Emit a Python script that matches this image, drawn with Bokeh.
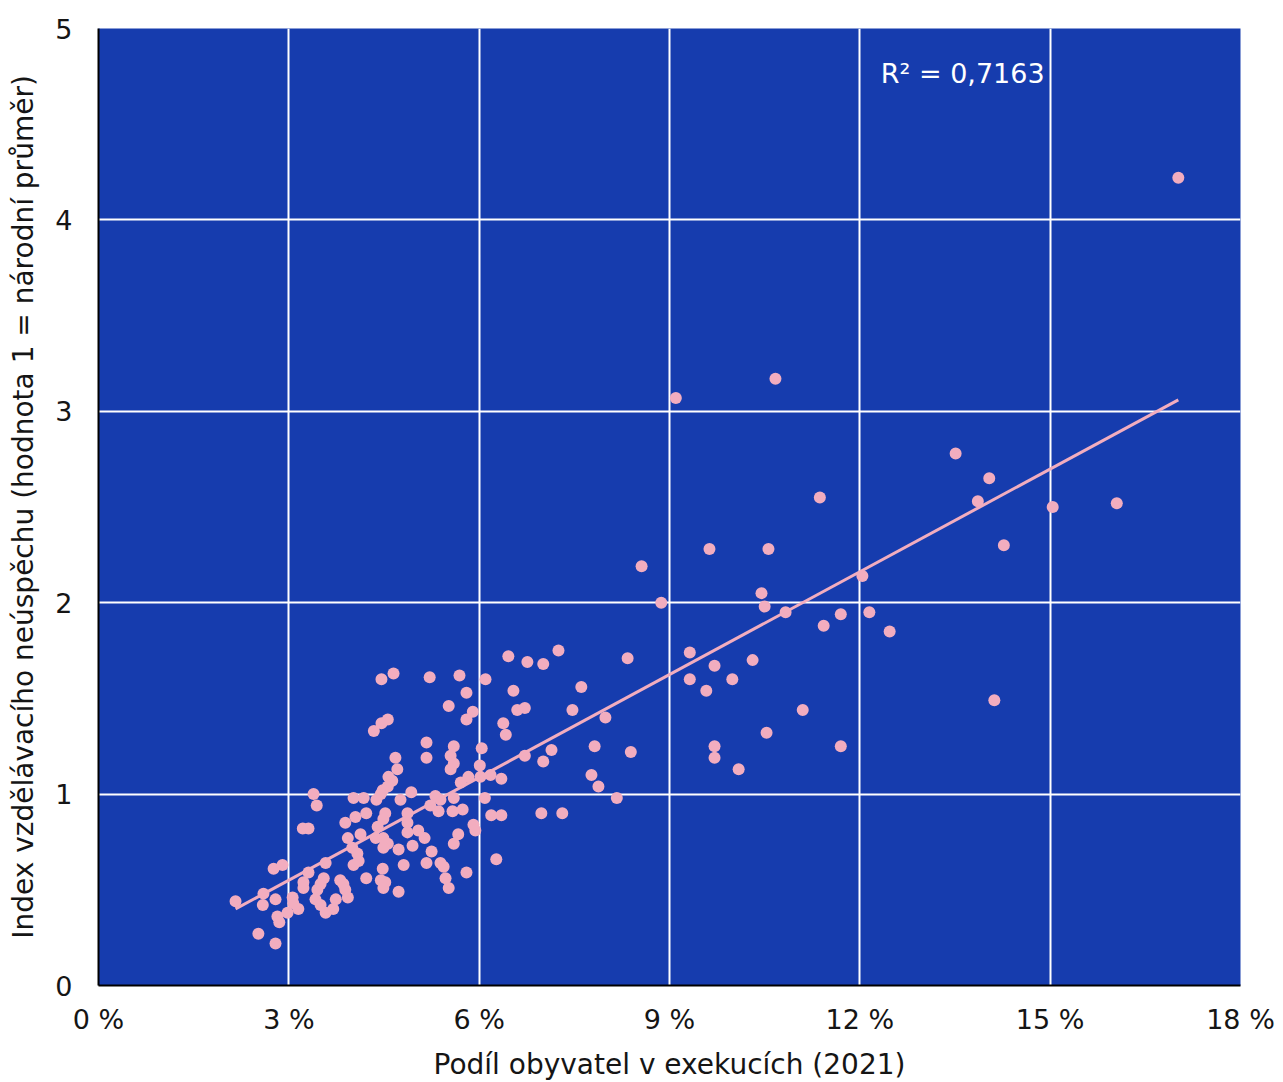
from bokeh.plotting import figure
from bokeh.models import FixedTicker, Label, Range1d, ColumnDataSource
from bokeh.embed import file_html
from bokeh.resources import INLINE

# ---- data ----
share_pct = [
    17.02, 10.67, 9.10, 13.51, 14.04, 13.86, 15.04, 16.05, 11.37, 14.27,
    9.63, 10.56, 8.56, 8.87, 10.45, 10.50, 10.83, 12.04, 12.15, 11.70,
    11.43, 12.47, 9.32, 9.71, 10.31, 8.34, 9.32, 9.58, 9.99, 14.12,
    11.10, 10.53, 9.71, 9.71, 11.70, 10.09, 8.39, 7.99, 7.61, 7.47,
    7.25, 7.01, 6.76, 6.46, 6.54, 6.60, 6.72, 6.38, 6.42, 7.82,
    7.77, 7.88, 8.17, 7.14, 6.72, 7.01, 6.98, 7.31, 6.35, 6.35,
    6.19, 6.27, 6.10, 5.69, 5.22, 4.65, 4.46, 5.80, 5.52, 5.90,
    5.80, 4.56, 4.46, 4.34, 5.17, 5.17, 5.60, 5.55, 5.60, 5.55,
    6.04, 6.01, 4.68, 4.71, 4.57, 4.63, 4.56, 4.48, 4.45, 4.02,
    4.18, 4.38, 4.76, 4.93, 3.39, 3.44, 4.05, 4.22, 3.89, 4.52,
    4.49, 4.87, 4.87, 4.87, 5.31, 5.39, 5.60, 5.71, 5.83, 6.02,
    6.18, 5.23, 5.36, 5.58, 5.74, 5.91, 5.94, 6.09, 3.22, 3.31,
    5.04, 5.14, 4.40, 4.37, 4.49, 4.56, 4.49, 3.93, 4.13, 4.73,
    4.95, 5.25, 5.17, 5.67, 5.60, 4.00, 4.08, 4.10, 4.02, 4.81,
    5.39, 5.44, 5.47, 5.52, 5.80, 2.76, 2.90, 3.58, 3.31, 4.22,
    4.48, 4.45, 4.52, 4.49, 4.73, 3.23, 3.23, 3.55, 3.50, 3.45,
    3.81, 3.86, 3.89, 3.93, 3.74, 3.42, 3.50, 3.58, 3.70, 2.60,
    2.59, 2.79, 2.16, 3.06, 3.07, 3.15, 2.98, 2.82, 2.85, 2.52,
    2.79,
]
failure_index = [
    4.22, 3.17, 3.07, 2.78, 2.65, 2.53, 2.50, 2.52, 2.55, 2.30,
    2.28, 2.28, 2.19, 2.00, 2.05, 1.98, 1.95, 2.14, 1.95, 1.94,
    1.88, 1.85, 1.74, 1.67, 1.70, 1.71, 1.60, 1.54, 1.60, 1.49,
    1.44, 1.32, 1.25, 1.19, 1.25, 1.13, 1.22, 1.40, 1.56, 1.44,
    1.75, 1.68, 1.69, 1.72, 1.54, 1.44, 1.45, 1.37, 1.31, 1.25,
    1.10, 1.04, 0.98, 1.23, 1.20, 1.17, 0.90, 0.90, 1.08, 0.89,
    0.89, 0.66, 1.60, 1.62, 1.61, 1.63, 1.60, 1.53, 1.46, 1.43,
    1.39, 1.39, 1.37, 1.33, 1.27, 1.19, 1.25, 1.20, 1.16, 1.13,
    1.24, 1.15, 1.19, 1.13, 1.09, 1.07, 1.04, 1.02, 1.00, 0.98,
    0.98, 0.97, 0.97, 1.01, 1.00, 0.94, 0.88, 0.90, 0.85, 0.90,
    0.87, 0.90, 0.85, 0.80, 0.99, 0.97, 0.98, 1.06, 1.09, 1.09,
    1.10, 0.94, 0.91, 0.91, 0.92, 0.84, 0.81, 0.98, 0.82, 0.82,
    0.81, 0.77, 0.83, 0.77, 0.77, 0.74, 0.72, 0.77, 0.79, 0.71,
    0.73, 0.70, 0.64, 0.79, 0.74, 0.72, 0.69, 0.65, 0.63, 0.63,
    0.64, 0.62, 0.56, 0.51, 0.59, 0.61, 0.63, 0.64, 0.59, 0.56,
    0.61, 0.55, 0.54, 0.51, 0.49, 0.54, 0.51, 0.56, 0.53, 0.50,
    0.55, 0.53, 0.50, 0.46, 0.45, 0.45, 0.42, 0.38, 0.40, 0.48,
    0.42, 0.45, 0.44, 0.46, 0.43, 0.40, 0.38, 0.36, 0.33, 0.27,
    0.22,
]
trend_x = [2.16, 17.02]
trend_y = [0.40, 3.06]
r2_text = "R\u00b2 = 0,7163"

x_ticks = [0, 3, 6, 9, 12, 15, 18]
x_tick_labels = ["0 %", "3 %", "6 %", "9 %", "12 %", "15 %", "18 %"]
y_ticks = [0, 1, 2, 3, 4, 5]
x_title = "Podíl obyvatel v exekucích (2021)"
y_title = "Index vzdělávacího neúspěchu (hodnota 1 = národní průměr)"

# ---- styling ----
BG = "#163CAE"
PINK = "#F2ADBF"
FONT = "DejaVu Sans"

p = figure(frame_width=1142, frame_height=957, output_backend="svg",
           toolbar_location=None,
           x_range=Range1d(0, 18), y_range=Range1d(0, 5),
           min_border_left=98, min_border_right=35, min_border_top=28,
           min_border_bottom=97)
p.background_fill_color = BG
p.border_fill_color = "white"
p.outline_line_color = None

p.xgrid.ticker = FixedTicker(ticks=x_ticks[1:-1])
p.ygrid.ticker = FixedTicker(ticks=y_ticks[1:-1])
for g in (p.xgrid, p.ygrid):
    g.grid_line_color = "white"
    g.grid_line_width = 2

p.xaxis.ticker = FixedTicker(ticks=x_ticks)
p.xaxis.major_label_overrides = {t: l for t, l in zip(x_ticks, x_tick_labels)}
p.yaxis.ticker = FixedTicker(ticks=y_ticks)
p.xaxis.axis_label = x_title
p.yaxis.axis_label = y_title
for ax in (p.xaxis, p.yaxis):
    ax.axis_line_color = "black"
    ax.axis_line_width = 2
    ax.major_tick_line_color = None
    ax.minor_tick_line_color = None
    ax.major_label_text_font = FONT
    ax.major_label_text_font_size = "27px"
    ax.major_label_text_color = "#151515"
    ax.axis_label_text_font = FONT
    ax.axis_label_text_font_size = "28px"
    ax.axis_label_text_font_style = "normal"
    ax.axis_label_text_color = "#151515"
p.xaxis.major_label_standoff = 12
p.xaxis.axis_label_standoff = 10
p.yaxis.major_label_standoff = 20
p.yaxis.axis_label_standoff = 12

src = ColumnDataSource(data=dict(x=share_pct, y=failure_index))
p.scatter("x", "y", source=src, size=12, fill_color=PINK, line_color=None)
p.line(trend_x, trend_y, line_color=PINK, line_width=3)

p.add_layout(Label(x=12.33, y=4.765, text=r2_text, text_color="white",
                   text_font=FONT, text_font_size="27px",
                   text_baseline="middle", text_align="left"))

open("out.html", "w").write(file_html(p, INLINE))
